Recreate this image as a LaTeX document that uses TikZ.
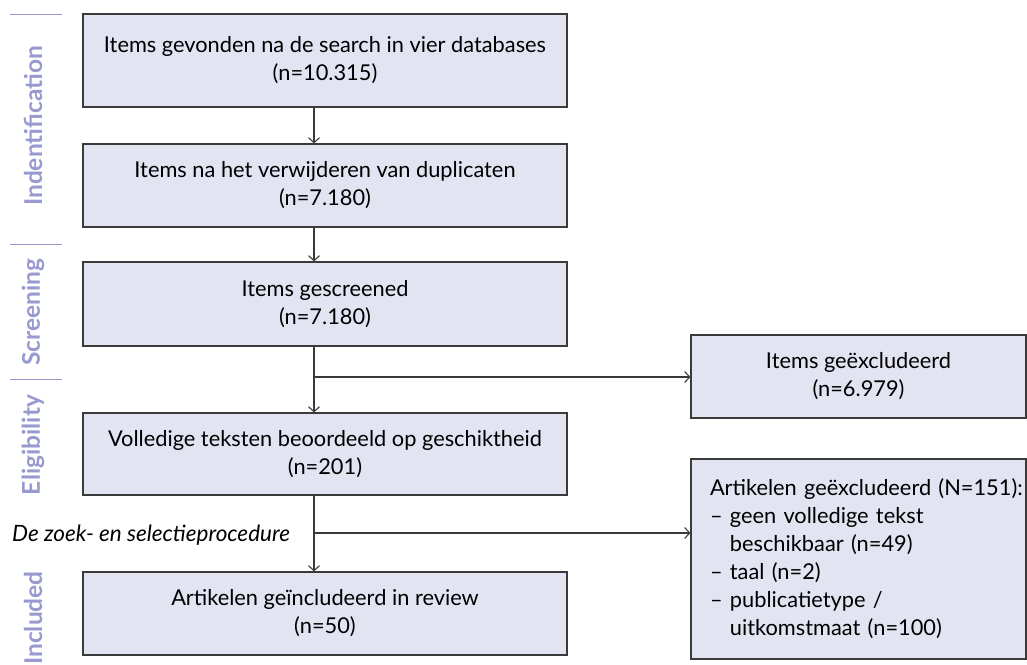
\documentclass[tikz,border=0pt]{standalone}
\usepackage{fontspec}
\setmainfont{Lato}
\usetikzlibrary{arrows.meta}
\definecolor{boxfill}{HTML}{E3E4F2}
\definecolor{boxline}{HTML}{3A3A3A}
\definecolor{phase}{HTML}{9899CF}
\tikzset{
  flowbox/.style={draw=boxline, fill=boxfill, line width=1.2pt, align=center, inner sep=0pt, font=\fontsize{21.8}{28}\selectfont},
  phaselabel/.style={rotate=90, text=phase, font=\fontsize{24.5}{28}\selectfont\bfseries, inner sep=0pt},
  phaseline/.style={draw=phase, line width=1pt},
  conn/.style={draw=boxline, line width=1.2pt, -{Straight Barb[length=5pt,width=11pt,line width=1.1pt]}},
}
\begin{document}
\begin{tikzpicture}[x=1pt,y=-1pt]
\useasboundingbox (0,0) rectangle (1027,664);
% phase labels
\node[phaselabel] (pI) at (33,126) {Indentification};
\node[phaselabel] (pS) at (33,312) {Screening};
\node[phaselabel] (pE) at (33,445) {Eligibility};
\node[phaselabel] (pN) at (33,618) {Included};
\coordinate (l1a) at (10,14); \coordinate (l1b) at (62,14);
\coordinate (l2a) at (10,244); \coordinate (l2b) at (62,244);
\coordinate (l3a) at (10,379); \coordinate (l3b) at (62,379);
\draw[phaseline] (l1a) -- (l1b);
\draw[phaseline] (l2a) -- (l2b);
\draw[phaseline] (l3a) -- (l3b);
% main boxes
\node[flowbox, minimum width=484pt, minimum height=93pt] (b1) at (325,60.5) {Items gevonden na de search in vier databases\\(n=10.315)};
\node[flowbox, minimum width=484pt, minimum height=83pt] (b2) at (325,185.5) {Items na het verwijderen van duplicaten\\(n=7.180)};
\node[flowbox, minimum width=484pt, minimum height=84pt] (b3) at (325,304) {Items gescreened\\(n=7.180)};
\node[flowbox, minimum width=484pt, minimum height=82pt] (b4) at (325,454) {Volledige teksten beoordeeld op geschiktheid\\(n=201)};
\node[flowbox, minimum width=484pt, minimum height=83pt] (b5) at (325,613.5) {Artikelen geïncludeerd in review\\(n=50)};
% side boxes
\node[flowbox, minimum width=335pt, minimum height=83pt] (r1) at (858.5,376.5) {Items geëxcludeerd\\(n=6.979)};
\node[flowbox, minimum width=335pt, minimum height=200pt, align=left, text width=297pt] (r2) at (858.5,559) {\mbox{Artikelen geëxcludeerd (N=151):}\\
\mbox{– geen volledige tekst}\\
\mbox{\phantom{– }beschikbaar (n=49)}\\
\mbox{– taal (n=2)}\\
\mbox{– publicatietype /}\\
\mbox{\phantom{– }uitkomstmaat (n=100)}};
% caption
\node[anchor=west, inner sep=0pt, font=\fontsize{22.5}{26}\selectfont\itshape] (cap) at (12,535) {De zoek- en selectieprocedure};
% connectors
\coordinate (lx) at (314,0);
\coordinate (j1) at (314,377);
\coordinate (j2) at (314,533);
\draw[conn] (b1.south -| lx) -- (b2.north -| lx);
\draw[conn] (b2.south -| lx) -- (b3.north -| lx);
\draw[conn] (b3.south -| lx) -- (b4.north -| lx);
\draw[conn] (b4.south -| lx) -- (b5.north -| lx);
\draw[conn] (j1) -- (j1 -| r1.west);
\draw[conn] (j2) -- (j2 -| r2.west);
\end{tikzpicture}
\end{document}
